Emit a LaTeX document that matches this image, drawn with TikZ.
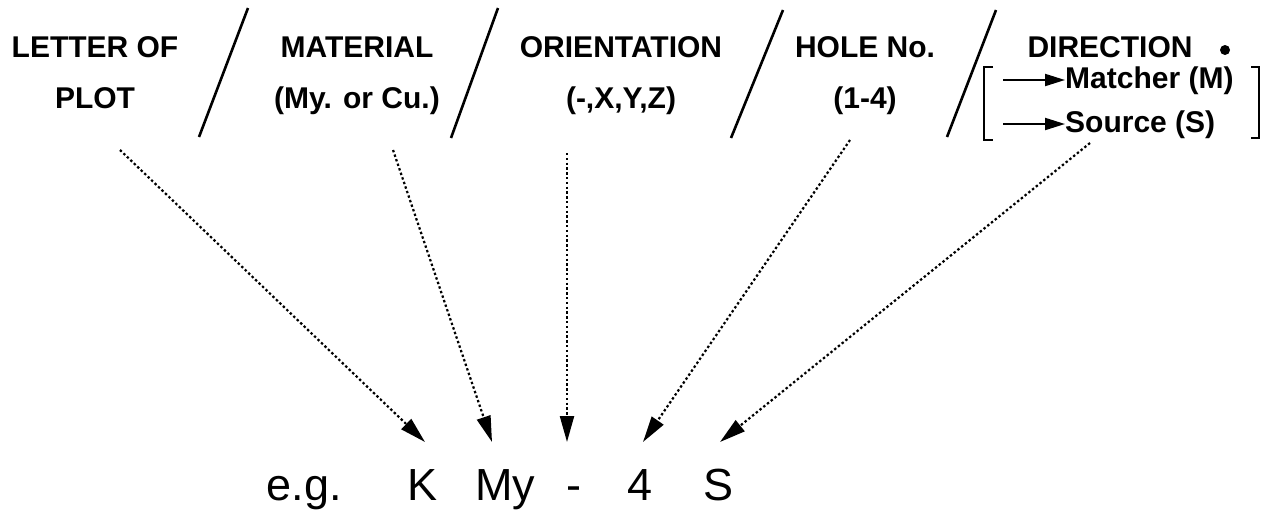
\documentclass[tikz,border=0pt]{standalone}
\usepackage{fontspec}
\setmainfont{Liberation Sans}
\usetikzlibrary{arrows.meta}

\begin{document}
\begin{tikzpicture}[
  x=1pt, y=-1pt,
  lbl/.style={align=center, anchor=base, inner sep=0pt, font=\fontsize{30}{51}\selectfont\bfseries},
  code/.style={anchor=base, inner sep=0pt, font=\fontsize{45}{50}\selectfont},
  slash/.style={line width=2.6pt},
  ptr/.style={-{Triangle[length=26pt,width=14pt]}, dash pattern=on 2.4pt off 2.4pt, line width=2.2pt},
  sub/.style={-{Triangle[length=20pt,width=12pt]}, line width=2pt}
]
\useasboundingbox (0,0) rectangle (1284,515);
% headings (base = last line)
\node[lbl] (letter) at (95,108) {LETTER OF\\PLOT};
\node[lbl] (material) at (357,108) {MATERIAL\\(My. or Cu.)};
\node[lbl] (orient) at (621,108) {ORIENTATION\\(-,X,Y,Z)};
\node[lbl] (hole) at (865,108) {HOLE No.\\(1-4)};
\node[lbl] (dir) at (1110,57) {DIRECTION};
\fill (1225,50) circle (5);
\node[lbl, anchor=base west] (matcher) at (1065,88) {Matcher (M)};
\node[lbl, anchor=base west] (source) at (1065,132) {Source (S)};
\coordinate (mtail) at (1003,80);
\coordinate (stail) at (1003,124);
\draw[sub] (mtail) -- (matcher.west |- mtail);
\draw[sub] (stail) -- (source.west |- stail);
\draw[line width=2pt] (993,67) -- (984,67) -- (984,140) -- (993,140);
\draw[line width=2pt] (1251,67) -- (1259,67) -- (1259,138) -- (1251,138);
% separators
\draw[slash] (248,8) -- (199,137);
\draw[slash] (498,8) -- (451,138);
\draw[slash] (783,10) -- (731,138);
\draw[slash] (996,10) -- (947,137);
% example code
\node[code] (eg) at (304,500) {e.g.};
\node[code] (k) at (423,500) {K};
\node[code] (my) at (505,500) {My};
\node[code] (dash) at (574,500) {-};
\node[code] (four) at (640,500) {4};
\node[code] (s) at (718,500) {S};
% pointers
\coordinate (pa) at (120,150);
\coordinate (pb) at (393,150);
\coordinate (pc) at (567,153);
\coordinate (pd) at (850,140);
\coordinate (pe) at (1090,143);
\coordinate (ta) at (425,442);
\coordinate (tb) at (492,442);
\coordinate (tc) at (567,442);
\coordinate (td) at (643,442);
\coordinate (te) at (720,442);
\draw[ptr] (pa) -- (ta);
\draw[ptr] (pb) -- (tb);
\draw[ptr] (pc) -- (tc);
\draw[ptr] (pd) -- (td);
\draw[ptr] (pe) -- (te);
\end{tikzpicture}
\end{document}
